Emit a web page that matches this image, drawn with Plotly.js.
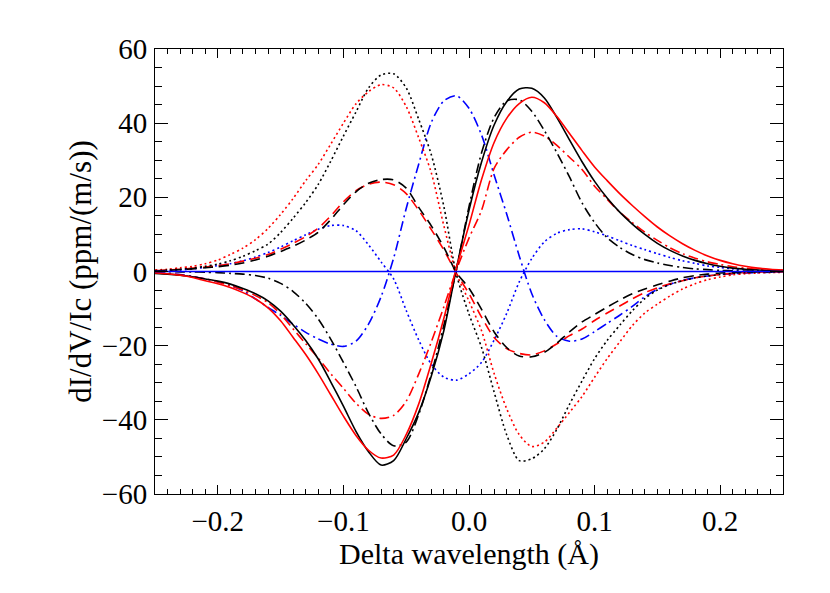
<!DOCTYPE html>
<html>
<head>
<meta charset="utf-8">
<script src="https://cdn.plot.ly/plotly-3.0.1.min.js"></script>
<style>html,body{margin:0;padding:0;background:#fff;}#chart{width:830px;height:593px;}</style>
</head>
<body>
<div id="chart"></div>
<script>
// Delta wavelength grid (Å)
const deltaWl = [-0.25,-0.24,-0.23,-0.22,-0.21,-0.20,-0.19,-0.18,-0.17,-0.16,-0.15,-0.14,-0.13,-0.12,-0.11,-0.10,-0.09,-0.08,-0.07,-0.06,-0.05,-0.04,-0.03,-0.02,-0.01,
  0.00,0.01,0.02,0.03,0.04,0.05,0.06,0.07,0.08,0.09,0.10,0.11,0.12,0.13,0.14,0.15,0.16,0.17,0.18,0.19,0.20,0.21,0.22,0.23,0.24,0.25];

// Black curves
const blackSolid = [-0.5,-0.7,-1.0,-1.4,-2.0,-2.6,-3.4,-4.6,-6.0,-7.9,-10.7,-14.4,-18.6,-23.6,-29.8,-36.3,-43.1,-48.6,-52.2,-51.0,-45.1,-38.0,-28.2,-15.9,0.8,
  16.5,29.5,39.5,45.8,49.2,49.4,46.8,41.5,35.5,29.6,24.3,19.8,16.0,12.8,10.0,7.6,5.7,4.2,3.0,2.1,1.4,0.9,0.6,0.4,0.3,0.2];
const blackDotted = [0.2,0.4,0.6,0.9,1.4,2.0,2.9,4.1,5.6,7.4,10.5,14.4,18.6,23.5,29.8,36.5,43.0,49.5,53.0,53.3,49.5,41.0,31.5,17.5,-0.8,
  -11.5,-20.5,-32.5,-44.0,-51.0,-50.5,-47.8,-42.5,-35.8,-29.5,-23.5,-18.6,-14.5,-10.6,-7.3,-5.0,-3.5,-2.5,-1.7,-1.2,-0.8,-0.5,-0.3,-0.2,-0.1,-0.1];
const blackDashed = [0.1,0.3,0.5,0.7,1.0,1.3,1.7,2.3,3.1,4.1,5.4,6.8,8.5,10.6,14.0,18.0,21.5,23.8,24.8,24.7,22.5,17.3,12.3,6.5,-0.3,
  -4.5,-10.2,-16.3,-20.5,-22.8,-23.0,-21.8,-19.3,-16.3,-13.6,-11.6,-9.6,-7.7,-6.0,-4.7,-3.6,-2.6,-1.7,-1.1,-0.7,-0.4,-0.3,-0.2,-0.1,-0.1,0.0];
const blackDashDot = [0.0,0.0,-0.1,-0.1,-0.2,-0.3,-0.5,-0.7,-1.1,-1.8,-3.2,-5.4,-8.6,-12.8,-18.3,-24.5,-31.0,-38.2,-43.8,-47.0,-46.0,-38.5,-27.5,-14.5,0.6,
  17.5,32.0,41.5,46.0,46.3,43.2,38.0,32.0,25.5,18.5,13.2,9.1,6.5,4.6,3.2,2.3,1.6,1.1,0.7,0.5,0.3,0.2,0.1,0.1,0.0,0.0];

// Red curves
const redSolid = [-0.4,-0.6,-1.0,-1.6,-2.5,-3.3,-4.3,-5.7,-7.4,-9.8,-13.3,-17.8,-22.4,-27.6,-33.3,-39.0,-44.2,-48.2,-50.3,-49.5,-44.0,-35.7,-24.7,-12.6,1.0,
  12.5,24.8,34.8,41.3,45.3,47.0,45.5,41.8,37.2,32.6,28.2,24.5,21.0,17.8,14.8,12.0,9.6,7.5,5.7,4.2,3.0,2.1,1.4,0.9,0.6,0.4];
const redDotted = [0.4,0.6,1.0,1.4,2.1,3.1,4.6,6.3,8.6,11.6,15.4,19.7,24.5,28.9,34.4,40.0,45.2,48.5,50.4,49.5,44.5,36.0,26.6,12.3,-0.5,
  -8.0,-16.0,-27.5,-37.0,-44.0,-47.2,-46.0,-42.2,-38.0,-33.7,-28.5,-23.5,-19.0,-14.6,-11.2,-8.8,-6.6,-4.7,-3.3,-2.2,-1.5,-0.9,-0.6,-0.4,-0.3,-0.2];
const redDashed = [0.2,0.4,0.6,0.9,1.2,1.6,2.1,2.8,3.6,4.6,6.0,7.6,9.4,11.7,15.0,18.8,21.8,23.5,24.1,23.4,21.0,16.5,11.3,5.8,-0.5,
  -6.0,-12.3,-17.8,-20.8,-22.1,-22.5,-21.4,-19.5,-17.3,-15.5,-13.2,-11.2,-9.3,-7.4,-5.7,-4.4,-3.3,-2.5,-1.7,-1.2,-0.8,-0.5,-0.3,-0.2,-0.1,-0.1];
const redDashDot = [-0.4,-0.6,-0.9,-1.4,-2.0,-2.8,-3.8,-5.0,-6.5,-8.4,-11.5,-15.5,-19.5,-23.4,-27.6,-31.5,-35.5,-38.5,-39.6,-38.8,-35.0,-27.6,-19.0,-9.5,0.4,
  9.0,16.5,27.8,32.8,36.2,37.6,36.5,34.0,30.8,27.5,23.0,19.5,16.0,13.2,10.6,8.4,6.4,4.8,3.6,2.6,1.9,1.3,0.9,0.6,0.4,0.3];

// Blue curves
const blueDotted = [0.1,0.2,0.4,0.7,1.1,1.6,2.1,2.9,3.9,5.1,6.6,8.3,9.9,11.4,12.4,12.4,11.0,7.2,2.6,-2.0,-10.5,-18.5,-25.0,-28.5,-29.3,
  -27.6,-24.5,-18.5,-11.3,-2.8,3.5,8.0,10.3,11.3,11.5,10.7,9.6,8.3,7.0,5.9,4.8,3.8,2.9,2.2,1.5,1.1,0.7,0.5,0.3,0.2,0.1];
const blueDashDot = [-0.3,-0.5,-0.8,-1.3,-2.0,-2.8,-3.8,-5.2,-7.4,-9.7,-11.8,-14.2,-16.4,-18.2,-19.6,-20.2,-18.8,-14.2,-6.8,3.6,17.0,29.0,40.2,46.0,47.4,
  44.0,36.8,26.0,15.5,4.2,-6.0,-13.0,-17.5,-18.8,-18.2,-16.2,-14.0,-11.8,-9.4,-6.8,-4.8,-3.4,-2.4,-1.7,-1.2,-0.8,-0.6,-0.4,-0.3,-0.2,-0.1];
const blueSolidX = [-0.25, 0.25];
const blueSolid = [0.0, 0.0];

const DOT = '2px,3px', DASH = '10px,6px', DASHDOT = '10px,4px,2px,4px';
function tr(xs, ys, color, dash) {
  return {x: xs, y: ys, type: 'scatter', mode: 'lines', hoverinfo: 'skip',
    line: {color: color, width: 1.6, dash: dash, shape: 'spline', smoothing: 0.8}};
}
const data = [
  tr(deltaWl, blueDotted, '#0000ff', DOT),
  tr(deltaWl, blueDashDot, '#0000ff', DASHDOT),
  tr(deltaWl, redDashed, '#ff0000', DASH),
  tr(deltaWl, blackDashed, '#000000', DASH),
  tr(deltaWl, redDotted, '#ff0000', DOT),
  tr(deltaWl, blackDotted, '#000000', DOT),
  tr(deltaWl, redDashDot, '#ff0000', DASHDOT),
  tr(deltaWl, blackDashDot, '#000000', DASHDOT),
  tr(deltaWl, blackSolid, '#000000', 'solid'),
  tr(deltaWl, redSolid, '#ff0000', 'solid'),
  tr(blueSolidX, blueSolid, '#0000ff', 'solid')
];

const FAM = 'Liberation Serif';
const layout = {
  width: 830, height: 593,
  margin: {l: 155, r: 47, t: 49, b: 99},
  paper_bgcolor: '#fff', plot_bgcolor: '#fff',
  showlegend: false,
  font: {family: FAM, size: 29, color: '#000'},
  xaxis: {
    range: [-0.25, 0.25], dtick: 0.1, tick0: 0, tickformat: '.1f',
    showgrid: false, zeroline: false,
    showline: true, linecolor: '#000', linewidth: 1, mirror: 'allticks',
    ticks: 'inside', ticklen: 9, tickwidth: 1, tickcolor: '#000',
    minor: {ticks: 'inside', ticklen: 5, dtick: 0.01, tickwidth: 1, tickcolor: '#000', showgrid: false},
    tickfont: {family: FAM, size: 29, color: '#000'},
    ticklabelstandoff: 1,
    title: {text: 'Delta wavelength (Å)', font: {family: FAM, size: 30, color: '#000'}, standoff: 0}
  },
  yaxis: {
    range: [-60, 60], dtick: 20, tick0: 0,
    showgrid: false, zeroline: false,
    showline: true, linecolor: '#000', linewidth: 1, mirror: 'allticks',
    ticks: 'inside', ticklen: 13, tickwidth: 1, tickcolor: '#000',
    minor: {ticks: 'inside', ticklen: 7, dtick: 5, tickwidth: 1, tickcolor: '#000', showgrid: false},
    tickfont: {family: FAM, size: 29, color: '#000'},
    ticklabelstandoff: 1,
    title: {text: 'dI/dV/Ic (ppm/(m/s))', font: {family: FAM, size: 31, color: '#000'}, standoff: 0}
  }
};
Plotly.newPlot('chart', data, layout, {displayModeBar: false, staticPlot: true});
</script>
</body>
</html>
